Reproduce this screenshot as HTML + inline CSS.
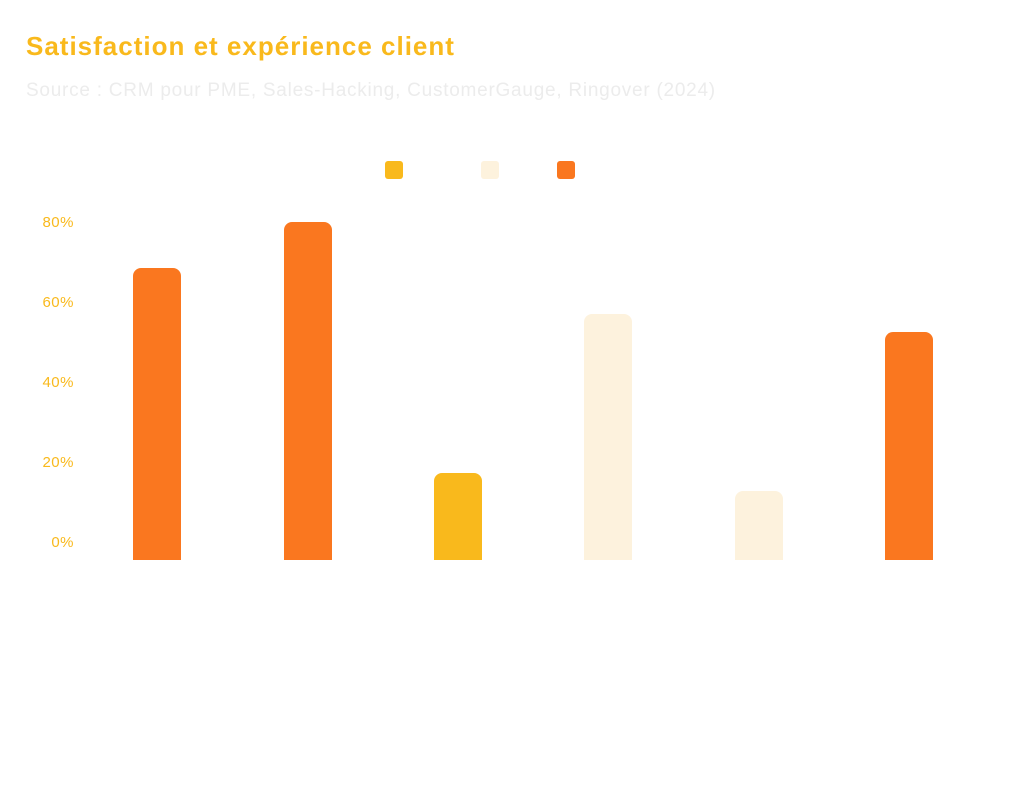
<!DOCTYPE html>
<html><head><meta charset="utf-8"><style>
body{margin:0;background:#fff;width:1024px;height:796px;overflow:hidden;font-family:"Liberation Sans",sans-serif;position:relative}
.t{position:absolute;left:26px;top:31px;font-size:26px;font-weight:bold;color:#f9b91c;letter-spacing:1px}
.s{position:absolute;left:26px;top:80px;font-size:19px;color:#ececec;letter-spacing:0.75px}
.l{position:absolute;width:18px;height:18px;top:161px;border-radius:3px}
.y{position:absolute;right:950px;font-size:15px;color:#f9b91c;letter-spacing:0.5px}
.b{position:absolute;width:48px;bottom:236px;border-radius:8px 8px 0 0}
</style></head><body>
<div class="t">Satisfaction et expérience client</div>
<div class="s">Source : CRM pour PME, Sales-Hacking, CustomerGauge, Ringover (2024)</div>
<div class="l" style="left:385px;background:#f9b91c"></div>
<div class="l" style="left:481px;background:#fdf2dd"></div>
<div class="l" style="left:557px;background:#fa771f"></div>
<div class="y" style="top:214px">80%</div>
<div class="y" style="top:294px">60%</div>
<div class="y" style="top:374px">40%</div>
<div class="y" style="top:454px">20%</div>
<div class="y" style="top:534px">0%</div>
<div class="b" style="left:133px;top:268px;background:#fa771f"></div>
<div class="b" style="left:284px;top:222px;background:#fa771f"></div>
<div class="b" style="left:434px;top:473px;background:#f9b91c"></div>
<div class="b" style="left:584px;top:314px;background:#fdf2dd"></div>
<div class="b" style="left:735px;top:491px;background:#fdf2dd"></div>
<div class="b" style="left:885px;top:332px;background:#fa771f"></div>
</body></html>
